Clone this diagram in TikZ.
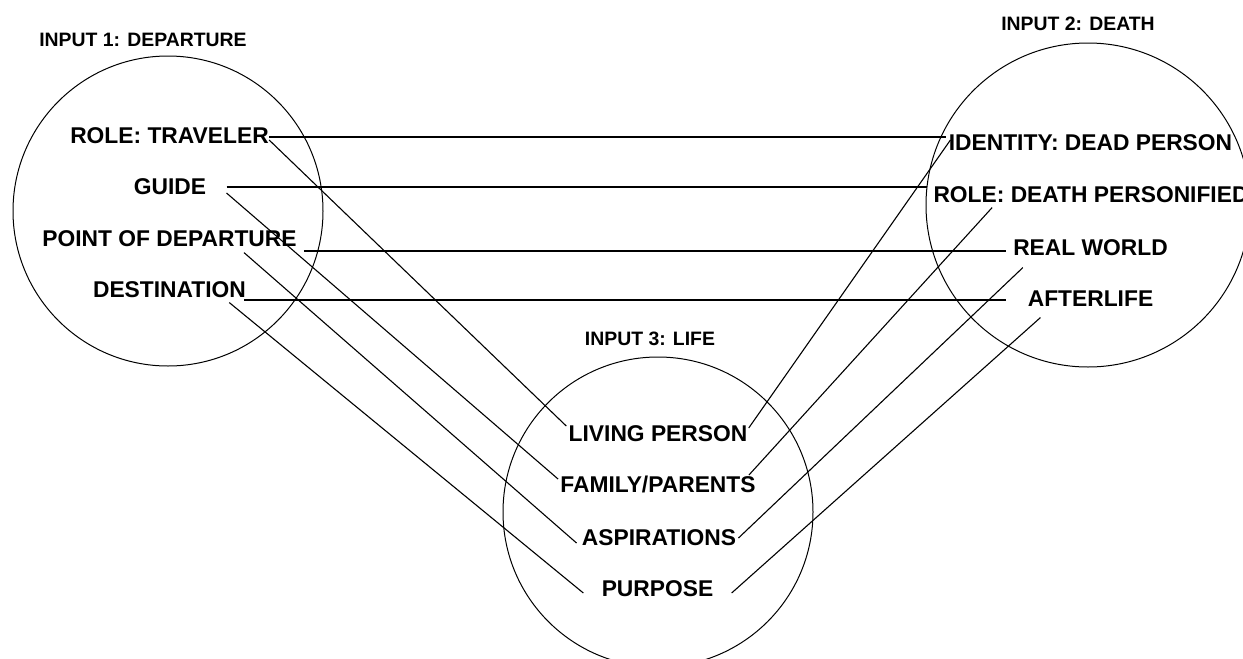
\documentclass[tikz,border=0pt]{standalone}
\usepackage{fontspec}
\setmainfont{Liberation Sans}
\usetikzlibrary{calc}
\tikzset{
  ttl/.style={font=\fontsize{9.7}{11}\selectfont\bfseries, inner sep=0pt, text height=7pt, text depth=0pt},
  lbl/.style={font=\fontsize{11.4}{13}\selectfont\bfseries, inner sep=0pt, text height=8.2pt, text depth=0pt},
  ring/.style={draw=black, line width=0.5pt},
  lnk/.style={draw=black, line width=0.55pt},
}
\begin{document}
\begin{tikzpicture}[x=0.5pt, y=-0.5pt]
        \useasboundingbox (0,0) rectangle (1243,659);
        % ---------- Input 1: departure ----------
        \draw[ring] (168,211) circle [radius=155];
        \node[ttl] (t1) at (143,39) {INPUT 1: DEPARTURE};
        \node[lbl] (rt)  at (169.5,135) {ROLE: TRAVELER};
        \node[lbl] (gd)  at (170,186)   {GUIDE};
        \node[lbl] (pod) at (169.5,238) {POINT OF DEPARTURE};
        \node[lbl] (dst) at (169.5,289) {DESTINATION};
        % ---------- Input 2: death ----------
        \draw[ring] (1088,205) circle [radius=162];
        \node[ttl] (t2) at (1078,23) {INPUT 2: DEATH};
        \node[lbl] (idp) at (1090.5,142) {IDENTITY: DEAD PERSON};
        \node[lbl] (rdp) at (1091,194)   {ROLE: DEATH PERSONIFIED};
        \node[lbl] (rw)  at (1090.5,247) {REAL WORLD};
        \node[lbl] (af)  at (1090.5,298) {AFTERLIFE};
        % ---------- Input 3: life ----------
        \draw[ring] (658,512) circle [radius=155];
        \node[ttl] (t3) at (650,338) {INPUT 3: LIFE};
        \node[lbl] (lp)  at (658,433)   {LIVING PERSON};
        \node[lbl] (fp)  at (658,484)   {FAMILY/PARENTS};
        \node[lbl] (asp) at (659,537)   {ASPIRATIONS};
        \node[lbl] (pur) at (657.5,588) {PURPOSE};
        % ---------- departure -- death ----------
        \draw[lnk] ($(rt.east)+(0,2)$) -- ($(rt.east -| idp.west)+(-2,2)$);
        \draw[lnk] ($(gd.east)+(20,1)$) -- ($(gd.east -| rdp.west)+(-6,1)$);
        \draw[lnk] ($(pod.east)+(7,13)$) -- ($(pod.east -| rw.west)+(-7,13)$);
        \draw[lnk] ($(dst.east)+(-2,11)$) -- ($(dst.east -| af.west)+(-21,11)$);
        % ---------- departure -- life ----------
        \draw[lnk] ($(rt.east)+(0,5)$) -- ($(lp.west)+(-2,-7)$);
        \draw[lnk] ($(gd.east)+(20,7)$) -- ($(fp.west)+(-2,-5)$);
        \draw[lnk] ($(pod.south east)+(-53,6)$) -- ($(asp.west)+(-5,6)$);
        \draw[lnk] ($(dst.south east)+(-17,5)$) -- ($(pur.west)+(-18,5)$);
        % ---------- death -- life ----------
        \draw[lnk] ($(idp.west)+(2,-2)$) -- ($(lp.east)+(1,-5)$);
        \draw[lnk] ($(rdp.south west)+(59,5)$) -- ($(fp.east)+(-7,-9)$);
        \draw[lnk] ($(rw.south west)+(10,12)$) -- ($(asp.east)+(2,1)$);
        \draw[lnk] ($(af.south west)+(13,11)$) -- ($(pur.east)+(18,5)$);
    \end{tikzpicture}
\end{document}
